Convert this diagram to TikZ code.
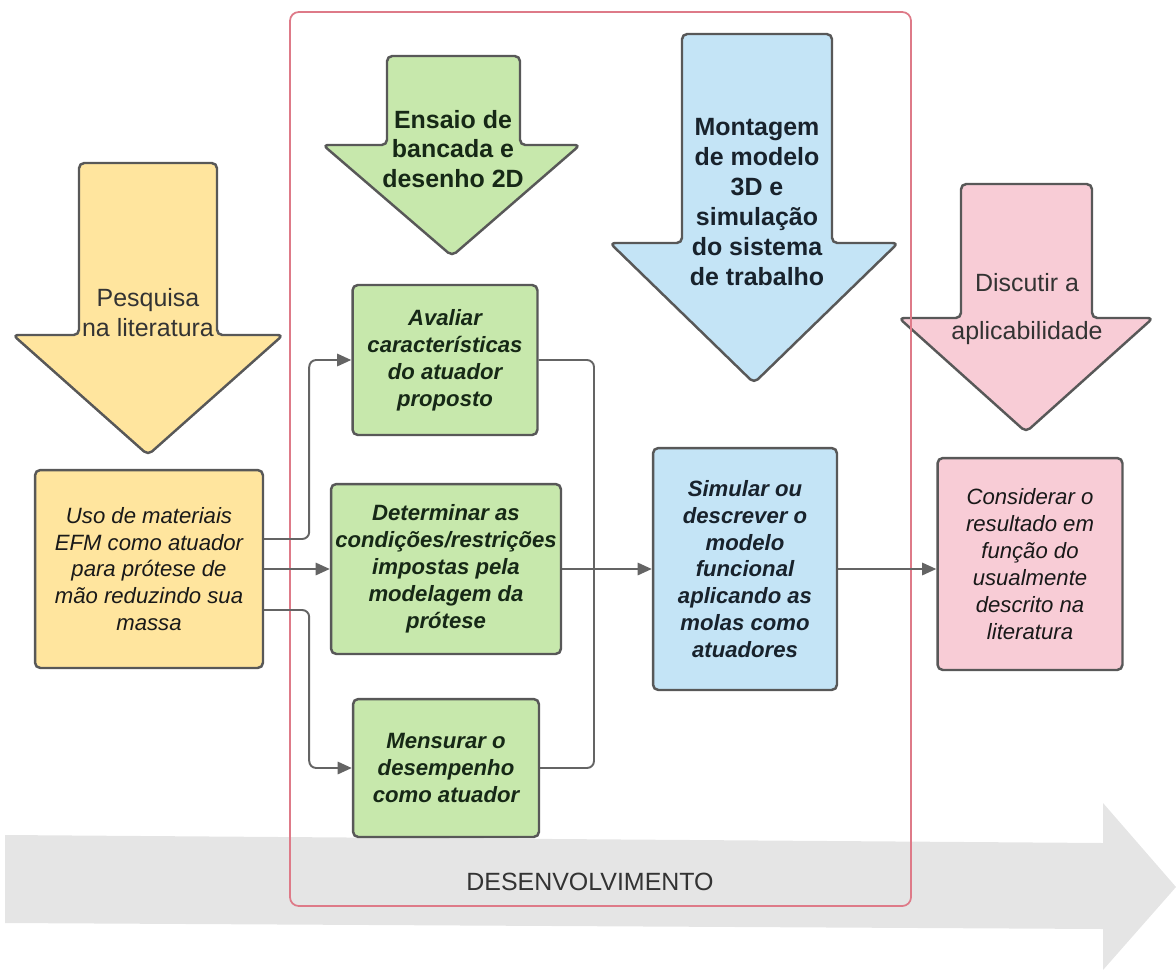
\documentclass[tikz,border=0pt]{standalone}
\usepackage{fontspec}
\setmainfont{Liberation Sans}
\usepackage{xcolor}
\usepackage{tikz}
\usetikzlibrary{arrows.meta}
\usetikzlibrary{backgrounds}
\usetikzlibrary{calc}
\pgfdeclarelayer{edgelayer}
\pgfdeclarelayer{nodelayer}
\pgfsetlayers{background,edgelayer,nodelayer,main}
\definecolor{amarelo}{RGB}{255,229,158}
\definecolor{verde}{RGB}{199,232,172}
\definecolor{azul}{RGB}{196,228,246}
\definecolor{rosa}{RGB}{248,204,214}
\definecolor{borda}{RGB}{88,88,88}
\definecolor{linha}{RGB}{100,100,100}
\definecolor{moldura}{RGB}{222,122,136}
\definecolor{cinza}{RGB}{229,229,229}
\definecolor{textoverde}{RGB}{22,40,22}
\definecolor{textoazul}{RGB}{24,34,44}
\tikzstyle{none}=[inner sep=0mm]
\tikzstyle{caixa}=[draw=borda,line width=1.4pt,rounded corners=3pt,align=center,inner sep=1pt,text=black!90,font=\fontsize{12.6}{15.3}\selectfont\itshape]
\tikzstyle{yn}=[caixa,fill=amarelo]
\tikzstyle{gn}=[caixa,fill=verde,text=textoverde,font=\fontsize{12.6}{15.3}\selectfont\bfseries\itshape]
\tikzstyle{bn}=[caixa,fill=azul,text=textoazul,font=\fontsize{12.6}{15.3}\selectfont\bfseries\itshape]
\tikzstyle{pn}=[caixa,fill=rosa]
\tikzstyle{seta}=[draw=borda,line width=1.4pt,rounded corners=3pt]
\tikzstyle{rotulo}=[align=center,inner sep=0pt,text=black!80,font=\fontsize{14.2}{17}\selectfont]
\tikzstyle{rotulo bold}=[rotulo,font=\fontsize{14.2}{17}\selectfont\bfseries]
\tikzstyle{conn}=[draw=linha,line width=1.1pt,rounded corners=4pt]
\tikzstyle{diredge}=[conn,-{Triangle[length=8pt,width=7pt]}]
% block arrow pointing down: fill, shaft left/right, top, head left/right, base, tip x/y
\newcommand{\setabaixo}[9]{%
	\draw [style=seta, fill=#1] (#2,#4) -- (#3,#4) -- (#3,#7) -- (#6,#7) -- (#8,#9) -- (#5,#7) -- (#2,#7) -- cycle;}

\begin{document}
\begin{tikzpicture}[x=0.02cm, y=-0.02cm]
	\useasboundingbox (0,0) rectangle (1176,970);
	\begin{pgfonlayer}{background}
		\fill [cinza] (5,835) -- (1103,843) -- (1103,803) -- (1176,887) -- (1103,970) -- (1103,929) -- (5,923) -- cycle;
		\setabaixo{amarelo}{79}{217}{163}{13}{283}{335}{148}{455}
		\setabaixo{verde}{387}{520}{56}{323}{580}{145}{452}{256}
		\setabaixo{azul}{682}{832}{34}{610}{898}{243}{754}{383}
		\setabaixo{rosa}{961}{1092}{184}{899}{1153}{318}{1026}{432}
		\draw [draw=moldura, line width=1pt, rounded corners=5pt] (290,12) rectangle (911,906);
	\end{pgfonlayer}
	\begin{pgfonlayer}{nodelayer}
		\node [style=yn, minimum width=4.56cm, minimum height=3.96cm] (uso) at (149, 569) {Uso de materiais\\EFM como atuador\\para prótese de\\mão reduzindo sua\\massa};
		\node [style=gn, minimum width=3.7cm, minimum height=3.0cm] (aval) at (445, 360) {Avaliar\\características\\do atuador\\proposto};
		\node [style=gn, minimum width=4.6cm, minimum height=3.4cm] (det) at (446, 569) {Determinar as\\condições/restrições\\impostas pela\\modelagem da\\prótese};
		\node [style=gn, minimum width=3.72cm, minimum height=2.76cm] (mens) at (446, 768) {Mensurar o\\desempenho\\como atuador};
		\node [style=bn, minimum width=3.68cm, minimum height=4.84cm] (sim) at (745, 569) {Simular ou\\descrever o\\modelo\\funcional\\aplicando as\\molas como\\atuadores};
		\node [style=pn, minimum width=3.7cm, minimum height=4.24cm] (cons) at (1030, 564) {Considerar o\\resultado em\\função do\\usualmente\\descrito na\\literatura};
		\coordinate (j) at (594, 569);
	\end{pgfonlayer}
	\begin{pgfonlayer}{edgelayer}
		\draw [style=diredge] ($(uso.east)+(0,-30)$) -- ++(45,0) |- (aval.west);
		\draw [style=diredge] (uso.east) -- (uso.east -| det.west);
		\draw [style=diredge] ($(uso.east)+(0,41)$) -- ++(45,0) |- (mens.west);
		\draw [style=conn] (aval.east) -| (j);
		\draw [style=conn] (mens.east) -| (j);
		\draw [style=diredge] (det.east) -- (sim.west);
		\draw [style=diredge] (sim.east) -- (sim.east -| cons.west);
	\end{pgfonlayer}
	\node [style=rotulo] (pesq) at (148, 313) {Pesquisa\\na literatura};
	\node [style=rotulo bold, text=textoverde] (ensaio) at (453, 149) {Ensaio de\\bancada e\\desenho 2D};
	\node [style=rotulo bold, text=textoazul] (mont) at (757, 202) {Montagem\\de modelo\\3D e\\simulação\\do sistema\\de trabalho};
	\node [style=rotulo] (disc) at (1027, 309) {Discutir a\\[10pt]aplicabilidade};
	\node [style=rotulo] (dev) at (590, 882) {DESENVOLVIMENTO};
\end{tikzpicture}
\end{document}
